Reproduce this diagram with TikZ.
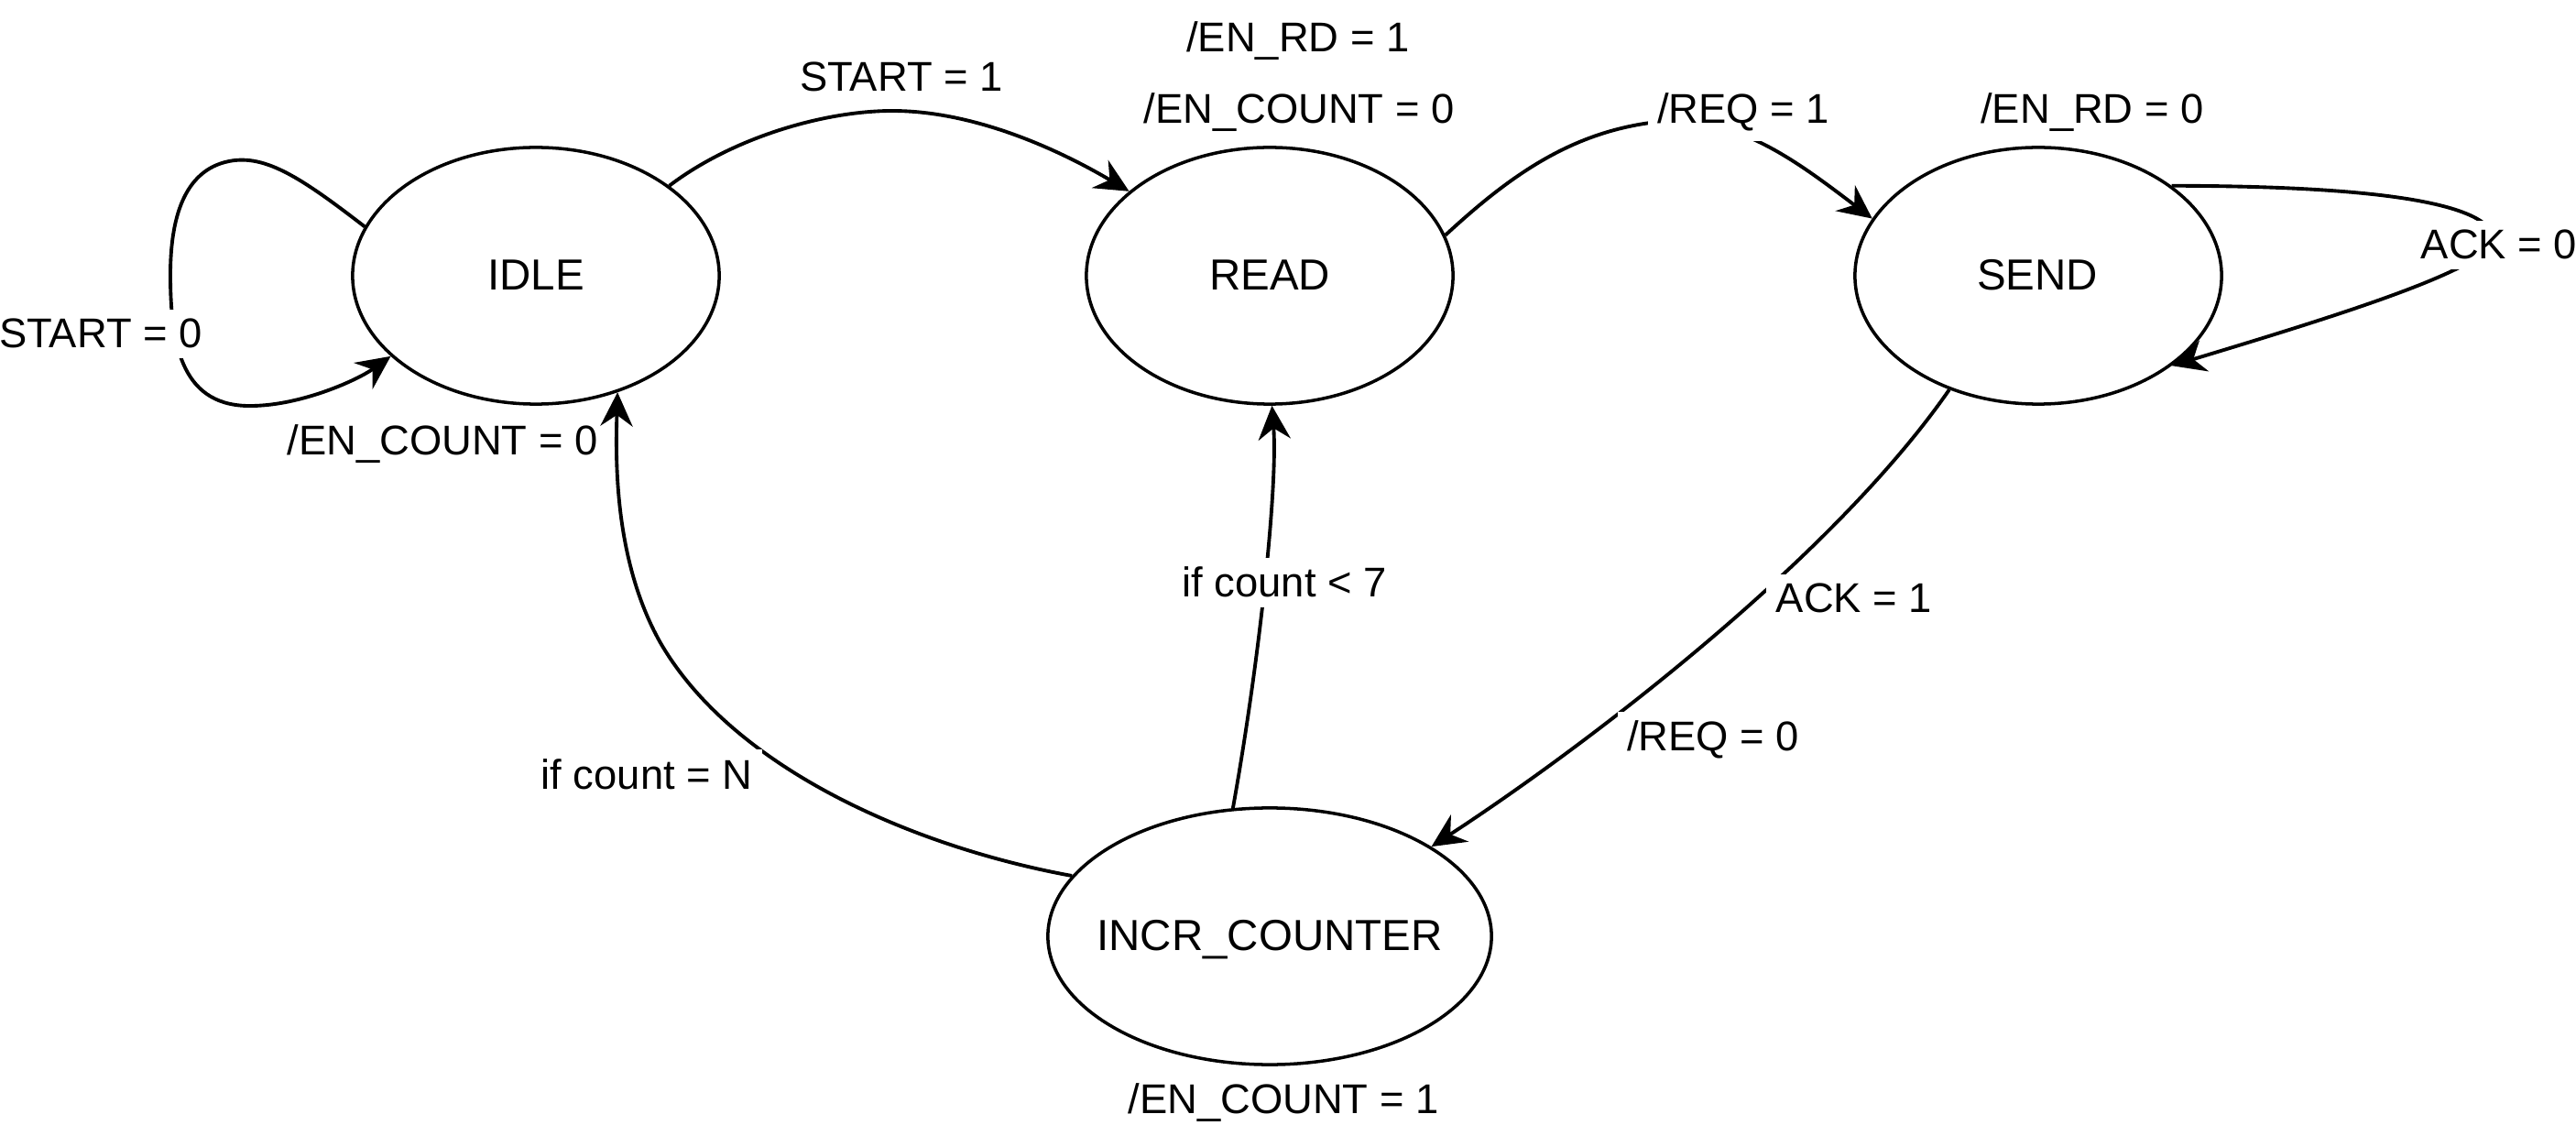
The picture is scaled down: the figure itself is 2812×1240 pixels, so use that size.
\documentclass[tikz,border=0pt]{standalone}
\usepackage{fontspec}
\setmainfont{Liberation Sans}
\usetikzlibrary{arrows.meta,shapes.geometric}
\begin{document}
\begin{tikzpicture}[x=0.01cm,y=-0.01cm,
  stnode/.style={ellipse, draw, line width=1pt, fill=white, minimum width=4cm, minimum height=2.8cm, inner sep=0pt},
  sttext/.style={font=\fontsize{13.5}{16}\selectfont, anchor=base, inner sep=0pt},
  lbl/.style={font=\fontsize{12.9}{15}\selectfont, anchor=base, inner sep=3pt},
  elbl/.style={lbl, fill=white},
  conn/.style={line width=1.1pt, -{Stealth[length=10.5pt,width=10pt,inset=3.5pt]}}
]
\useasboundingbox (0,0) rectangle (2812,1240);

% states
\node[stnode] (idle) at (585,301) {};
\node[stnode] (read) at (1386,301) {};
\node[stnode] (send) at (2225,301) {};
\node[stnode, minimum width=4.84cm] (incr) at (1386,1022) {};
\node[sttext] (idleT) at (585,317) {IDLE};
\node[sttext] (readT) at (1386,317) {READ};
\node[sttext] (sendT) at (2224,317) {SEND};
\node[sttext] (incrT) at (1386,1037) {INCR\_COUNTER};

% connectors
\draw[conn] (idle.164) .. controls (330,195) and (290,168) .. (250,176)
  .. controls (200,186) and (186,240) .. (186,300)
  .. controls (186,380) and (200,445) .. (276,443)
  .. controls (330,442) and (390,415) .. (idle.209);
\draw[conn] (idle.34) .. controls (800,150) and (900,121) .. (974,121)
  .. controls (1060,121) and (1150,160) .. (read.149);
\draw[conn] (read.13) .. controls (1650,190) and (1720,140) .. (1820,132)
  .. controls (1900,130) and (1960,175) .. (send.161);
\draw[conn] (send.34) .. controls (2550,203) and (2710,215) .. (2722,258)
  .. controls (2730,290) and (2550,345) .. (send.326);
\draw[conn] (send.232) .. controls (2000,610) and (1730,815) .. (incr.29);
\draw[conn] (incr.106) .. controls (1375,720) and (1395,530) .. (read.271);
\draw[conn] (incr.163) .. controls (1000,925) and (800,840) .. (720,700)
  .. controls (670,610) and (672,500) .. (idle.305);

% labels
\node[elbl] (l1) at (984,100) {START = 1};
\node[lbl] (l2) at (1417,57) {/EN\_RD = 1};
\node[lbl] (l3) at (1418,135) {/EN\_COUNT = 0};
\node[elbl] (l4) at (1903,135) {/REQ = 1};
\node[lbl] (l5) at (2284,135) {/EN\_RD = 0};
\node[elbl] (l6) at (2728,283) {ACK = 0};
\node[elbl] (l7) at (110,380) {START = 0};
\node[lbl] (l8) at (483,497) {/EN\_COUNT = 0};
\node[elbl] (l9) at (1402,652) {if count < 7};
\node[elbl] (l10) at (706,861) {if count = N};
\node[elbl] (l11) at (2024,669) {ACK = 1};
\node[elbl] (l12) at (1870,820) {/REQ = 0};
\node[lbl] (l13) at (1401,1215) {/EN\_COUNT = 1};
\end{tikzpicture}
\end{document}
